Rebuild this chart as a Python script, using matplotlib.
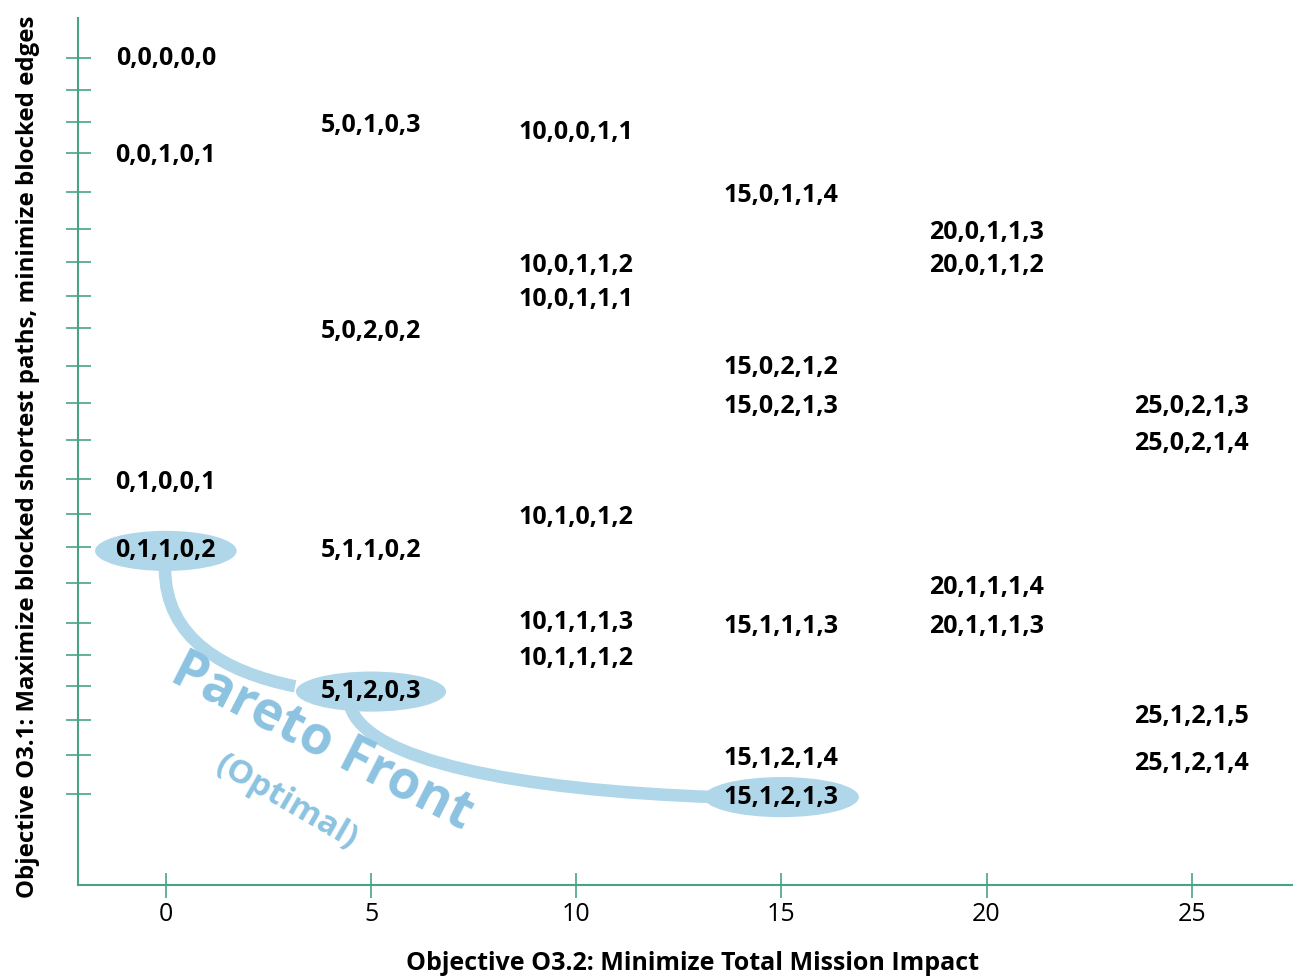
import matplotlib
matplotlib.use("Agg")
import matplotlib.pyplot as plt
from matplotlib.patches import Ellipse, PathPatch
from matplotlib.path import Path

# solution labels: x = objective O3.2 value, y = rank row on the O3.1 axis (top = 0)
labels = ['0,0,0,0,0', '5,0,1,0,3', '10,0,0,1,1', '0,0,1,0,1', '15,0,1,1,4',
          '20,0,1,1,3', '10,0,1,1,2', '20,0,1,1,2', '10,0,1,1,1', '5,0,2,0,2',
          '15,0,2,1,2', '15,0,2,1,3', '25,0,2,1,3', '25,0,2,1,4', '0,1,0,0,1',
          '10,1,0,1,2', '0,1,1,0,2', '5,1,1,0,2', '20,1,1,1,4', '10,1,1,1,3',
          '15,1,1,1,3', '20,1,1,1,3', '10,1,1,1,2', '5,1,2,0,3', '25,1,2,1,5',
          '15,1,2,1,4', '25,1,2,1,4', '15,1,2,1,3']
x_vals = [0, 5, 10, 0, 15, 20, 10, 20, 10, 5, 15, 15, 25, 25, 0, 10, 0, 5, 20, 10,
          15, 20, 10, 5, 25, 15, 25, 15]
y_rows = [0, 1.9, 2.1, 2.75, 3.9, 4.95, 5.9, 5.9, 6.85, 7.75, 8.8, 9.9, 9.9, 10.95,
          12.05, 13.05, 14, 14, 15.05, 16.05, 16.15, 16.15, 17.05, 18, 18.7, 19.9,
          20.05, 21]
pareto = ['0,1,1,0,2', '5,1,2,0,3', '15,1,2,1,3']
y_tick_rows = [0, 0.9, 1.8, 2.7, 3.8, 4.85, 5.8, 6.75, 7.65, 8.75, 9.8, 10.85,
               11.95, 12.95, 13.9, 14.9, 16.05, 16.95, 17.85, 18.8, 19.8, 20.9]
x_ticks = [0, 5, 10, 15, 20, 25]

green = '#48a386'
blue_fill = '#b0d6ea'
blue_text = '#8cc3e1'
font = ['Open Sans', 'DejaVu Sans']

fig = plt.figure(figsize=(12.94, 9.76), dpi=100)
ax = fig.add_axes([0.0603, 0.0932, 0.938, 0.888])
ax.set_xlim(-2.14, 27.44)
ax.set_ylim(23.5, -1.14)

for s in ['top', 'right']:
    ax.spines[s].set_visible(False)
for s in ['left', 'bottom']:
    ax.spines[s].set_color(green)
    ax.spines[s].set_linewidth(1.5)

ax.set_xticks(x_ticks)
ax.set_xticklabels([str(t) for t in x_ticks], fontsize=18, family=font)
ax.set_yticks(y_tick_rows)
ax.set_yticklabels([])
ax.tick_params(axis='both', direction='inout', length=18, width=1.2, color=green)
ax.tick_params(axis='x', pad=3)

# pareto front curves
curves = [[(-0.02, 14.5), (-0.02, 16.5), (1.44, 17.45), (3.15, 17.85)],
          [(4.49, 18.4), (4.86, 19.95), (8.52, 20.8), (13.4, 21.0)]]
for c in curves:
    p = Path(c, [Path.MOVETO, Path.CURVE4, Path.CURVE4, Path.CURVE4])
    ax.add_patch(PathPatch(p, facecolor='none', edgecolor=blue_fill, lw=9,
                           capstyle='butt', zorder=1))

ell_w = {'0,1,1,0,2': 3.45, '5,1,2,0,3': 3.66, '15,1,2,1,3': 3.78}
for lab, x, y in zip(labels, x_vals, y_rows):
    if lab in pareto:
        ax.add_patch(Ellipse((x, y), ell_w[lab], 1.14, facecolor=blue_fill,
                             edgecolor='none', zorder=2))
    ax.text(x, y, lab, ha='center', va='center', fontsize=18, fontweight='bold',
            family=font, zorder=3)

ax.text(3.8, 19.45, 'Pareto Front', rotation=-27, ha='center', va='center',
        fontsize=38, fontweight='bold', color=blue_text, family=font, zorder=2,
        rotation_mode='anchor')
ax.text(2.95, 21.15, '(Optimal)', rotation=-30, ha='center', va='center',
        fontsize=24, fontweight='bold', color=blue_text, family=font, zorder=2,
        rotation_mode='anchor')

fig.text(0.535, 0.0, 'Objective O3.2: Minimize Total Mission Impact', ha='center',
         va='bottom', fontsize=18, fontweight='bold', family=font)
fig.text(0.022, 0.532, 'Objective O3.1: Maximize blocked shortest paths, minimize blocked edges',
         ha='center', va='center', rotation=90, fontsize=17.3, fontweight='bold',
         family=font)

fig.savefig('out.png', dpi=100)
